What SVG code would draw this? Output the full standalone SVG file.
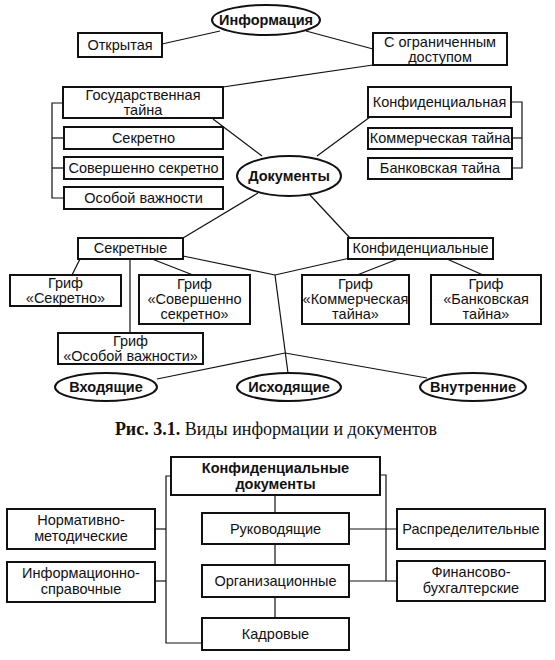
<svg xmlns="http://www.w3.org/2000/svg" width="555" height="660" viewBox="0 0 555 660">
<style>
.b{fill:#fff;stroke:#111;stroke-width:2}
.t{font-family:"Liberation Sans",Arial,sans-serif;font-size:14.5px;fill:#111;text-anchor:middle}
.tb{font-family:"Liberation Sans",Arial,sans-serif;font-size:14.5px;font-weight:bold;fill:#111;text-anchor:middle}
.c{fill:none;stroke:#111;stroke-width:1.2}
.cap{font-family:"Liberation Serif","Times New Roman",serif;font-size:18px;fill:#111}
</style>
<rect width="555" height="660" fill="#fff"/>
<g id="connectors">
<line class="c" x1="162" y1="44" x2="220" y2="31"/>
<line class="c" x1="306" y1="31" x2="373" y2="49"/>
<line class="c" x1="373" y1="65" x2="223" y2="87"/>
<polyline class="c" points="63,103 52,103 52,198 64,198"/>
<line class="c" x1="52" y1="138" x2="64" y2="138"/>
<line class="c" x1="52" y1="168" x2="64" y2="168"/>
<polyline class="c" points="511,102 522,102 522,168 512,168"/>
<line class="c" x1="512" y1="138" x2="522" y2="138"/>
<line class="c" x1="213" y1="119" x2="262" y2="156"/>
<line class="c" x1="317" y1="156" x2="370" y2="117"/>
<line class="c" x1="258" y1="193" x2="183" y2="238"/>
<line class="c" x1="310" y1="195" x2="350" y2="238"/>
<line class="c" x1="80" y1="259" x2="72" y2="275"/>
<line class="c" x1="152" y1="259" x2="193" y2="275"/>
<line class="c" x1="130" y1="259" x2="130" y2="333"/>
<line class="c" x1="183" y1="256" x2="275" y2="275"/>
<line class="c" x1="350" y1="258" x2="275" y2="275"/>
<line class="c" x1="275" y1="275" x2="288" y2="373"/>
<line class="c" x1="285" y1="353" x2="157" y2="379"/>
<line class="c" x1="285" y1="353" x2="427" y2="378"/>
<line class="c" x1="398" y1="259" x2="357" y2="275"/>
<line class="c" x1="447" y1="259" x2="483" y2="275"/>
<line class="c" x1="275" y1="495" x2="275" y2="618"/>
<polyline class="c" points="171,476 166,476 166,643 202,643"/>
<line class="c" x1="155" y1="529" x2="166" y2="529"/>
<line class="c" x1="155" y1="581" x2="166" y2="581"/>
<polyline class="c" points="380,475 386,475 386,581"/>
<line class="c" x1="349" y1="529" x2="397" y2="529"/>
<line class="c" x1="349" y1="581" x2="397" y2="581"/>
</g>
<g id="info"><ellipse class="b" cx="266" cy="20" rx="54" ry="15"/><text class="tb" x="266" y="25">Информация</text></g>
<g id="open"><rect class="b" x="78" y="33" width="84" height="24"/><text class="t" x="120" y="50">Открытая</text></g>
<g id="restricted"><rect class="b" x="373" y="33" width="134" height="32"/><text class="t" x="440" y="47">С ограниченным</text><text class="t" x="440" y="62">доступом</text></g>
<g id="state"><rect class="b" x="63" y="87" width="160" height="31"/><text class="t" x="143" y="100">Государственная</text><text class="t" x="143" y="115">тайна</text></g>
<g id="secret"><rect class="b" x="64" y="127" width="159" height="22"/><text class="t" x="143.5" y="143">Секретно</text></g>
<g id="topsecret"><rect class="b" x="64" y="157" width="159" height="22"/><text class="t" x="143.5" y="173">Совершенно секретно</text></g>
<g id="special"><rect class="b" x="64" y="187" width="159" height="22"/><text class="t" x="143.5" y="203">Особой важности</text></g>
<g id="confidential"><rect class="b" x="368" y="87" width="143" height="30"/><text class="t" x="439.5" y="107">Конфиденциальная</text></g>
<g id="commercial"><rect class="b" x="368" y="128" width="144" height="21"/><text class="t" x="440" y="143">Коммерческая тайна</text></g>
<g id="bank"><rect class="b" x="368" y="158" width="144" height="21"/><text class="t" x="440" y="173">Банковская тайна</text></g>
<g id="docs"><ellipse class="b" cx="289" cy="176" rx="52" ry="20"/><text class="tb" x="289" y="181">Документы</text></g>
<g id="secretdocs"><rect class="b" x="78" y="238" width="105" height="21"/><text class="t" x="130.5" y="253">Секретные</text></g>
<g id="confdocs"><rect class="b" x="348" y="238" width="145" height="21"/><text class="t" x="420.5" y="253">Конфиденциальные</text></g>
<g id="g-secret"><rect class="b" x="10" y="275" width="111" height="31"/><text class="t" x="65.5" y="288">Гриф</text><text class="t" x="65.5" y="303">«Секретно»</text></g>
<g id="g-topsecret"><rect class="b" x="139" y="275" width="111" height="49"/><text class="t" x="194.5" y="289">Гриф</text><text class="t" x="194.5" y="304">«Совершенно</text><text class="t" x="194.5" y="319">секретно»</text></g>
<g id="g-special"><rect class="b" x="58" y="333" width="145" height="31"/><text class="t" x="130.5" y="346">Гриф</text><text class="t" x="130.5" y="361">«Особой важности»</text></g>
<g id="g-commercial"><rect class="b" x="302" y="275" width="107" height="49"/><text class="t" x="355.5" y="289">Гриф</text><text class="t" x="355.5" y="304">«Коммерческая</text><text class="t" x="355.5" y="319">тайна»</text></g>
<g id="g-bank"><rect class="b" x="431" y="275" width="110" height="49"/><text class="t" x="486" y="289">Гриф</text><text class="t" x="486" y="304">«Банковская</text><text class="t" x="486" y="319">тайна»</text></g>
<g id="incoming"><ellipse class="b" cx="106" cy="387" rx="51" ry="14"/><text class="tb" x="106" y="392">Входящие</text></g>
<g id="outgoing"><ellipse class="b" cx="289" cy="387" rx="52" ry="14"/><text class="tb" x="289" y="392">Исходящие</text></g>
<g id="internal"><ellipse class="b" cx="473" cy="387" rx="53" ry="14"/><text class="tb" x="473" y="392">Внутренние</text></g>
<text class="cap" x="276" y="435" text-anchor="middle"><tspan font-weight="bold">Рис. 3.1.</tspan> Виды информации и документов</text>
<g id="cd"><rect class="b" x="171" y="457" width="209" height="38"/><text class="tb" x="275.5" y="473">Конфиденциальные</text><text class="tb" x="275.5" y="489">документы</text></g>
<g id="guiding"><rect class="b" x="202" y="513" width="147" height="31"/><text class="t" x="275.5" y="534">Руководящие</text></g>
<g id="org"><rect class="b" x="202" y="565" width="147" height="32"/><text class="t" x="275.5" y="586">Организационные</text></g>
<g id="hr"><rect class="b" x="202" y="618" width="147" height="32"/><text class="t" x="275.5" y="639">Кадровые</text></g>
<g id="norm"><rect class="b" x="7" y="509" width="148" height="40"/><text class="t" x="81" y="525">Нормативно-</text><text class="t" x="81" y="541">методические</text></g>
<g id="inforef"><rect class="b" x="7" y="562" width="148" height="40"/><text class="t" x="81" y="578">Информационно-</text><text class="t" x="81" y="594">справочные</text></g>
<g id="distr"><rect class="b" x="397" y="509" width="148" height="40"/><text class="t" x="471" y="534">Распределительные</text></g>
<g id="fin"><rect class="b" x="397" y="561" width="148" height="40"/><text class="t" x="471" y="577">Финансово-</text><text class="t" x="471" y="593">бухгалтерские</text></g>
</svg>
